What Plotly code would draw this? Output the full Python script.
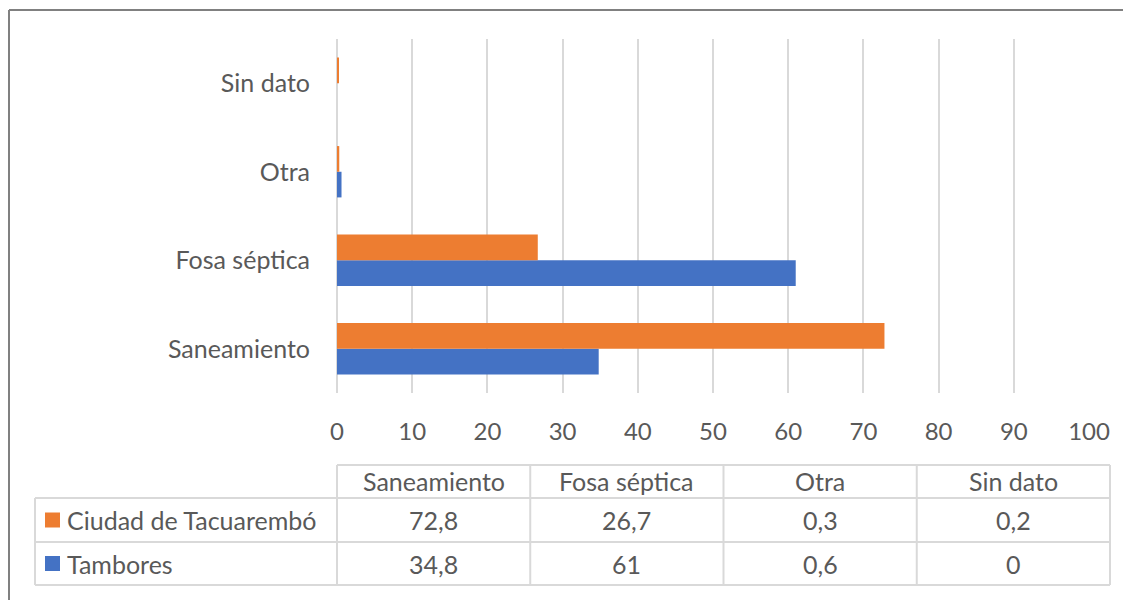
import plotly.graph_objects as go

categories = ["Saneamiento", "Fosa séptica", "Otra", "Sin dato"]
series_names = ["Ciudad de Tacuarembó", "Tambores"]
ciudad = [72.8, 26.7, 0.3, 0.2]
tambores = [34.8, 61, 0.6, 0]
colors = {"Ciudad de Tacuarembó": "#ED7D31", "Tambores": "#4472C4"}
x_ticks = [0, 10, 20, 30, 40, 50, 60, 70, 80, 90, 100]

# the page body has an 8px margin: figure fits inside the window
OFF = 8
W, H = 1131 - 2 * OFF, 608 - 2 * OFF
FONT = "Lato"
TXT = "#595959"
GRID = "#d9d9d9"
FS = 25
FS_TICK = 24

def px(x):
    return (x - OFF) / W

def py(y):
    return 1 - (y - OFF) / H

fig = go.Figure()
fig.add_trace(go.Bar(y=categories, x=tambores, orientation="h", name="Tambores",
                     marker=dict(color=colors["Tambores"], line=dict(width=0))))
fig.add_trace(go.Bar(y=categories, x=ciudad, orientation="h", name="Ciudad de Tacuarembó",
                     marker=dict(color=colors["Ciudad de Tacuarembó"], line=dict(width=0))))

fig.update_layout(
    width=W, height=H,
    margin=dict(l=0, r=0, t=0, b=0, pad=0),
    paper_bgcolor="white", plot_bgcolor="white",
    barmode="group", bargap=0.42, bargroupgap=0,
    showlegend=False,
    font=dict(family=FONT, size=FS, color=TXT),
    xaxis=dict(domain=[px(337), px(1089)], range=[0, 100], tickvals=x_ticks,
               automargin=False,
               showgrid=True, gridcolor=GRID, gridwidth=2, zeroline=True,
               zerolinecolor=GRID, zerolinewidth=2, showline=False,
               ticks="", ticklabelstandoff=22, tickfont=dict(size=FS_TICK, color=TXT)),
    yaxis=dict(domain=[py(393), py(39)], showgrid=False, zeroline=False,
               automargin=False,
               showline=False, ticks="", ticklabelstandoff=26,
               tickfont=dict(size=FS, color=TXT)),
)

shapes = []
# outer border (left and top edges visible in the frame)
border = dict(color="#808080", width=2)
shapes.append(dict(type="line", xref="paper", yref="paper",
                   x0=px(9), x1=px(1131), y0=py(10), y1=py(10), line=border))
shapes.append(dict(type="line", xref="paper", yref="paper",
                   x0=px(9), x1=px(9), y0=py(10), y1=py(608), line=border))

# data table
tx0, tlab, tx1 = 35, 337, 1110
ty = [465, 498, 542, 585]
ncol = len(categories)
colw = (tx1 - tlab) / ncol
line = dict(color=GRID, width=2)
shapes.append(dict(type="line", xref="paper", yref="paper",
                   x0=px(tlab), x1=px(tx1), y0=py(ty[0]), y1=py(ty[0]), line=line))
for yy in ty[1:]:
    shapes.append(dict(type="line", xref="paper", yref="paper",
                       x0=px(tx0), x1=px(tx1), y0=py(yy), y1=py(yy), line=line))
shapes.append(dict(type="line", xref="paper", yref="paper",
                   x0=px(tx0), x1=px(tx0), y0=py(ty[1]), y1=py(ty[-1]), line=line))
for i in range(ncol + 1):
    xx = tlab + i * colw
    shapes.append(dict(type="line", xref="paper", yref="paper",
                       x0=px(xx), x1=px(xx), y0=py(ty[0]), y1=py(ty[-1]), line=line))

annotations = []
def fmt(v):
    return ("%g" % v).replace(".", ",")

for i, c in enumerate(categories):
    annotations.append(dict(x=px(tlab + (i + 0.5) * colw), y=py((ty[0] + ty[1]) / 2),
                            xref="paper", yref="paper", text=c, showarrow=False,
                            xanchor="center", yanchor="middle",
                            font=dict(size=FS, color=TXT, family=FONT)))

rows = [("Ciudad de Tacuarembó", ciudad), ("Tambores", tambores)]
for r, (name, vals) in enumerate(rows):
    yc = (ty[r + 1] + ty[r + 2]) / 2
    shapes.append(dict(type="rect", xref="paper", yref="paper",
                       x0=px(45), x1=px(60), y0=py(yc + 7.5), y1=py(yc - 7.5),
                       fillcolor=colors[name], line=dict(width=0)))
    annotations.append(dict(x=px(65), y=py(yc), xref="paper", yref="paper",
                            text=name, showarrow=False, xanchor="left", yanchor="middle",
                            font=dict(size=FS, color=TXT, family=FONT)))
    for i, v in enumerate(vals):
        annotations.append(dict(x=px(tlab + (i + 0.5) * colw), y=py(yc),
                                xref="paper", yref="paper", text=fmt(v), showarrow=False,
                                xanchor="center", yanchor="middle",
                                font=dict(size=FS, color=TXT, family=FONT)))

fig.update_layout(shapes=shapes, annotations=annotations)
fig.write_html("out.html", config={"displayModeBar": False})
